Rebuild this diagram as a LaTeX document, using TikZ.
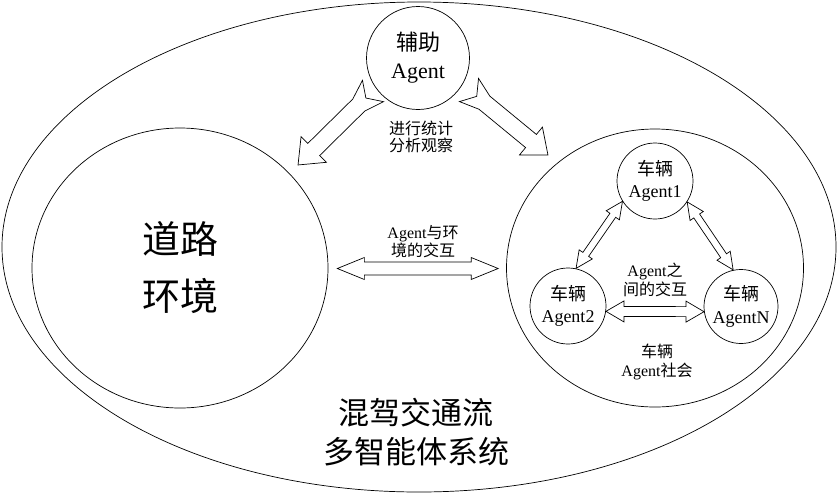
\documentclass[tikz,border=0pt]{standalone}
\usepackage{fontspec}
\usetikzlibrary{calc,shapes.geometric}
\setmainfont{Liberation Serif}
\newfontfamily\cjk{Noto Sans CJK SC}
\newcommand{\zh}[1]{{\cjk #1}}
\newcommand{\fs}[2]{\fontsize{#1}{#2}\selectfont}
% hollow arrow with notched tail: #1 tail, #2 tip
\newcommand{\obsarrow}[2]{%
  \draw[blockline] let \p1=(#1), \p2=(#2),
      \n1={veclen(\x2-\x1,\y2-\y1)}, \n2={atan2(\y2-\y1,\x2-\x1)} in
    [shift={(\p1)}, rotate=\n2]
    (0pt,15pt) -- (10pt,0pt) -- (0pt,-15pt) -- (20pt,-8.5pt) -- ({\n1*1pt-22pt},-8.5pt)
    -- ({\n1*1pt-22pt},-18pt) -- ({\n1*1pt},0pt) -- ({\n1*1pt-22pt},18pt)
    -- ({\n1*1pt-22pt},8.5pt) -- (20pt,8.5pt) -- cycle;}
% hollow two-headed arrow: #1 from, #2 to, #3 shaft, #4 head, #5 head length
\newcommand{\linkarrow}[5]{%
  \draw[blockline] let \p1=(#1), \p2=(#2),
      \n1={veclen(\x2-\x1,\y2-\y1)}, \n2={atan2(\y2-\y1,\x2-\x1)} in
    [shift={(\p1)}, rotate=\n2]
    (0pt,0pt) -- (#5,#4) -- (#5,#3) -- ({\n1*1pt-#5},#3) -- ({\n1*1pt-#5},#4)
    -- ({\n1*1pt},0pt) -- ({\n1*1pt-#5},-#4) -- ({\n1*1pt-#5},-#3) -- (#5,-#3)
    -- (#5,-#4) -- cycle;}

\begin{document}
\begin{tikzpicture}[x=1pt, y=-1pt, line width=0.7pt,
    ring/.style={draw, ellipse, inner sep=0pt, align=center},
    agent/.style={draw, circle, minimum size=76pt, inner sep=0pt, align=center, font=\fs{18}{22.5}},
    note/.style={align=center, font=\fs{16}{18}},
    blockline/.style={line width=0.7pt, line join=miter}]
  \useasboundingbox (0,0) rectangle (838,499);
  % outer system
  \node[ring, minimum width=834pt, minimum height=490pt] (mas) at (419,247) {};
  \node[align=center, font=\fs{31}{39}] (title) at (416,432) {\zh{混驾交通流}\\\zh{多智能体系统}};
  % environment and vehicle society
  \node[ring, minimum width=296pt, minimum height=280pt, font=\fs{38}{57}] (road) at (180,268) {\zh{道路}\\\zh{环境}};
  \node[ring, minimum width=297pt, minimum height=278pt] (soc) at (655,268) {};
  \node[note, font=\fs{16}{18.7}] (soclbl) at (657,362) {\zh{车辆}\\Agent\zh{社会}};
  % helper agent
  \node[draw, circle, minimum size=103pt, inner sep=0pt, align=center, font=\fs{22}{28}] (aux) at (418,58) {\zh{辅助}\\Agent};
  \node[note, font=\fs{16}{17}] (obslbl) at (421,136.5) {\zh{进行统计}\\\zh{分析观察}};
  % vehicle agents
  \node[agent] (a1) at (655,181) {\zh{车辆}\\Agent1};
  \node[agent] (a2) at (568,306) {\zh{车辆}\\Agent2};
  \node[agent, minimum size=74pt] (an) at (741,306.5) {\zh{车辆}\\AgentN};
  \node[note, font=\fs{16}{19}] (intlbl) at (655,280) {Agent\zh{之}\\\zh{间的交互}};
  \node[note, font=\fs{16}{17.5}] (envlbl) at (423,241.5) {Agent\zh{与环}\\\zh{境的交互}};
  % arrows
  \coordinate (obsLtail) at (373,91);  \coordinate (obsLtip) at (298,165);
  \coordinate (obsRtail) at (469,90);  \coordinate (obsRtip) at (548,155);
  \obsarrow{obsLtail}{obsLtip}
  \obsarrow{obsRtail}{obsRtip}
  \linkarrow{$(road.east)+(9,0.5)$}{$(soc.west)+(-8,0.5)$}{6.5pt}{11pt}{27pt}
  \linkarrow{a2.-8}{an.188}{5pt}{10.5pt}{18pt}
  \linkarrow{a1.212}{a2.78}{3.5pt}{8pt}{17pt}
  \linkarrow{a1.-33}{an.102}{3.5pt}{8pt}{17pt}
\end{tikzpicture}
\end{document}
